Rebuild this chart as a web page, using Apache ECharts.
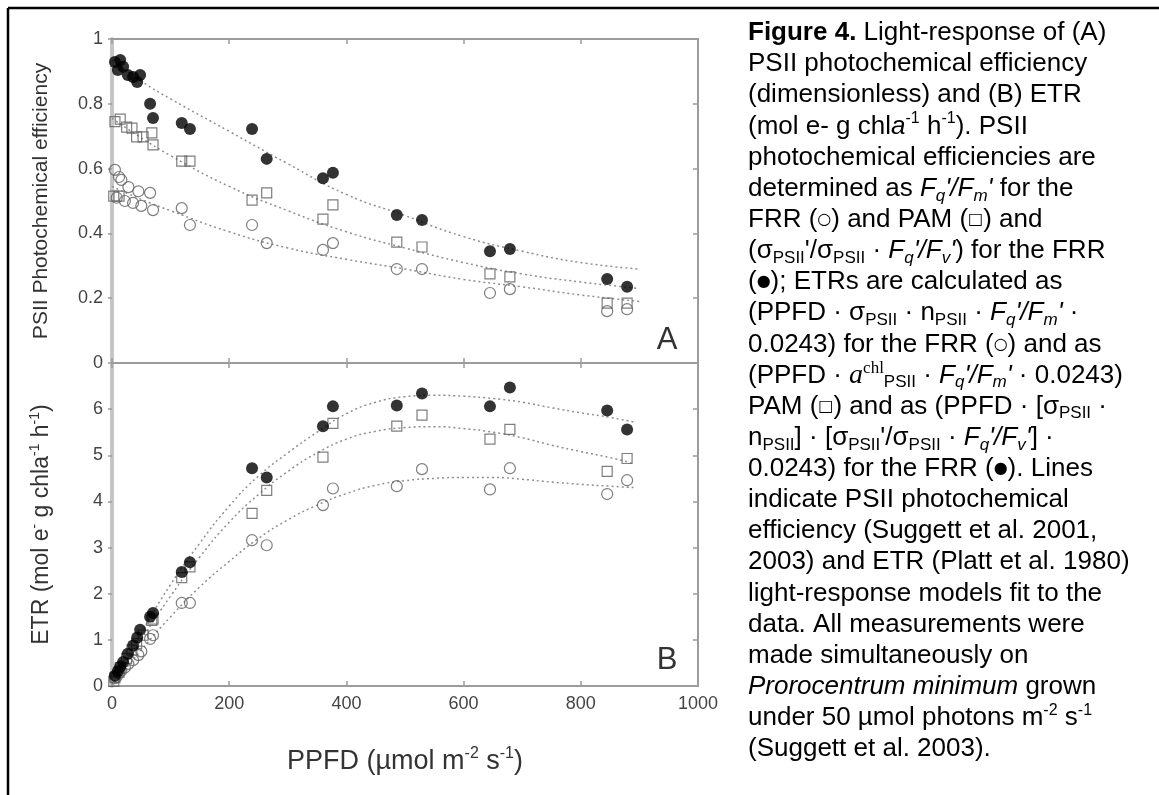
<!DOCTYPE html>
<html><head><meta charset="utf-8">
<script src="https://cdn.jsdelivr.net/npm/echarts@6/dist/echarts.min.js"></script>
<style>html,body{margin:0;padding:0;background:#fff}#c{width:1159px;height:795px}</style>
</head><body><div id="c"></div>
<script>
// ---------- data ----------
// x tick values (PPFD)
const xTicks = [0, 200, 400, 600, 800, 1000];
// Filled circles (FRR, sigma-corrected)
const ppfdFilled = [5, 10, 14, 19, 27, 36, 43, 48, 65, 70, 119, 133, 239, 264, 360, 377, 486, 529, 645, 679, 845, 879];
const effFilled  = [0.929, 0.904, 0.935, 0.914, 0.889, 0.883, 0.867, 0.889, 0.80, 0.756, 0.741, 0.722, 0.722, 0.63, 0.57, 0.587, 0.457, 0.441, 0.345, 0.352, 0.259, 0.235];
const etrFilled  = [0.22, 0.32, 0.42, 0.52, 0.70, 0.88, 1.05, 1.22, 1.50, 1.58, 2.47, 2.68, 4.72, 4.52, 5.63, 6.06, 6.08, 6.34, 6.06, 6.47, 5.97, 5.56];
// Open squares (PAM)
const ppfdSquare = [3, 5, 12, 14, 25, 34, 42, 53, 68, 70, 119, 133, 239, 264, 360, 377, 486, 529, 645, 679, 845, 879];
const effSquare  = [0.515, 0.745, 0.515, 0.753, 0.728, 0.725, 0.698, 0.698, 0.71, 0.673, 0.623, 0.623, 0.503, 0.525, 0.444, 0.488, 0.373, 0.358, 0.275, 0.266, 0.185, 0.185];
const etrSquare  = [0.10, 0.18, 0.30, 0.40, 0.60, 0.78, 0.92, 1.10, 1.42, 1.45, 2.35, 2.58, 3.74, 4.24, 4.96, 5.69, 5.63, 5.87, 5.35, 5.56, 4.65, 4.93];
// Open circles (FRR)
const ppfdCircle = [5, 8, 12, 16, 22, 28, 36, 45, 50, 65, 70, 119, 133, 239, 264, 360, 377, 486, 529, 645, 679, 845, 879];
const effCircle  = [0.596, 0.51, 0.574, 0.565, 0.50, 0.543, 0.494, 0.53, 0.485, 0.525, 0.472, 0.478, 0.426, 0.426, 0.37, 0.349, 0.37, 0.29, 0.29, 0.216, 0.228, 0.16, 0.166];
const etrCircle  = [0.17, 0.20, 0.28, 0.33, 0.40, 0.48, 0.56, 0.67, 0.75, 1.02, 1.10, 1.80, 1.80, 3.16, 3.05, 3.92, 4.28, 4.33, 4.70, 4.26, 4.72, 4.16, 4.46];
// Fitted model curves
const fitPpfdA     = [0, 50, 100, 200, 300, 400, 500, 600, 700, 800, 900];
const fitEffFilled = [0.935, 0.87, 0.815, 0.715, 0.615, 0.52, 0.455, 0.39, 0.345, 0.31, 0.29];
const fitEffSquare = [0.755, 0.695, 0.64, 0.545, 0.47, 0.405, 0.355, 0.31, 0.275, 0.25, 0.23];
const fitEffCircle = [0.545, 0.505, 0.47, 0.405, 0.355, 0.32, 0.29, 0.258, 0.235, 0.21, 0.19];
const fitPpfdB     = [0, 50, 100, 150, 200, 250, 300, 350, 400, 450, 500, 550, 600, 650, 700, 750, 800, 850, 890];
const fitEtrFilled = [0, 1.15, 2.2, 3.1, 3.9, 4.55, 5.05, 5.5, 5.9, 6.15, 6.27, 6.3, 6.28, 6.23, 6.15, 6.03, 5.92, 5.82, 5.72];
const fitEtrSquare = [0, 1.0, 1.95, 2.8, 3.55, 4.15, 4.65, 5.05, 5.35, 5.52, 5.6, 5.62, 5.58, 5.5, 5.38, 5.22, 5.08, 4.95, 4.82];
const fitEtrCircle = [0, 0.78, 1.5, 2.15, 2.7, 3.2, 3.6, 3.92, 4.17, 4.35, 4.45, 4.5, 4.52, 4.52, 4.48, 4.42, 4.37, 4.33, 4.3];

const captionLines = [
  "{b|Figure 4.} Light-response of (A)",
  "PSII photochemical efficiency",
  "(dimensionless) and (B) ETR",
  "(mol e- g chl{i|a}{sup|-1} h{sup|-1}). PSII",
  "photochemical efficiencies are",
  "determined as {i|F}{isub|q}{i|'/F}{isub|m}{i|'} for the",
  "FRR ({sym|○}) and PAM ({sym|□}) and",
  "(σ{sub|PSII}'/σ{sub|PSII} · {i|F}{isub|q}{i|'/F}{isub|v}{i|'}) for the FRR",
  "({sym|●}); ETRs are calculated as",
  "(PPFD · σ{sub|PSII} · n{sub|PSII} · {i|F}{isub|q}{i|'/F}{isub|m}{i|'} ·",
  "0.0243) for the FRR ({sym|○}) and as",
  "(PPFD · {sa|a}{ssup|chl}{sub|PSII} · {i|F}{isub|q}{i|'/F}{isub|m}{i|'} · 0.0243)",
  "PAM ({sym|□}) and as (PPFD · [σ{sub|PSII} ·",
  "n{sub|PSII}] · [σ{sub|PSII}'/σ{sub|PSII} · {i|F}{isub|q}{i|'/F}{isub|v}{i|'}] ·",
  "0.0243) for the FRR ({sym|●}). Lines",
  "indicate PSII photochemical",
  "efficiency (Suggett et al. 2001,",
  "2003) and ETR (Platt et al. 1980)",
  "light-response models fit to the",
  "data. All measurements were",
  "made simultaneously on",
  "{i|Prorocentrum minimum} grown",
  "under 50 µmol photons m{sup|-2} s{sup|-1}",
  "(Suggett et al. 2003)."
];

// ---------- helpers ----------
const FONT = 'Liberation Sans, Arial, Helvetica, sans-serif';
const SERIF = 'Liberation Serif, Times New Roman, serif';
const zip = (xs, ys) => xs.map((x, i) => [x, ys[i]]);
const fitStyle = { color: '#8f8f8f', width: 1.5, type: [2, 3] };
const openItem = { color: 'rgba(255,255,255,0)', borderColor: '#5e5e5e', borderWidth: 1.2 };

function xAx(grid, pos, labels, extra) {
  return Object.assign({
    type: 'value', gridIndex: grid, position: pos, min: xTicks[0], max: xTicks[xTicks.length - 1], interval: xTicks[1] - xTicks[0],
    axisLine: { show: true, onZero: false, lineStyle: { color: '#9c9c9c', width: 2 } },
    axisTick: { show: true, inside: true, length: 5, lineStyle: { color: '#9c9c9c', width: 1.5 } },
    axisLabel: { show: labels, fontSize: 18, color: '#444', fontFamily: FONT, margin: 9, formatter: v => String(v) },
    splitLine: { show: false }
  }, extra || {});
}
function yAx(grid, pos, max, interval, labels, fmt, extra) {
  const left = pos === 'left';
  return Object.assign({
    type: 'value', gridIndex: grid, position: pos, min: 0, max: max, interval: interval,
    axisLine: { show: true, onZero: false, lineStyle: { color: left ? '#c6c6c6' : '#9c9c9c', width: left ? 4 : 2 } },
    axisTick: { show: true, inside: !left, length: left ? 4 : 5, lineStyle: { color: '#9c9c9c', width: 1.5 } },
    axisLabel: { show: labels, fontSize: 18, color: '#444', fontFamily: FONT, margin: 9, formatter: fmt },
    splitLine: { show: false }
  }, extra || {});
}

const nameRichA = {
  n: { fontSize: 21, color: '#333', fontFamily: FONT, lineHeight: 26 }
};
const nameRichB = {
  n: { fontSize: 23, color: '#333', fontFamily: FONT, lineHeight: 28 },
  s: { fontSize: 14, color: '#333', fontFamily: FONT, lineHeight: 10, verticalAlign: 'top' }
};
const xNameRich = {
  n: { fontSize: 27, color: '#333', fontFamily: FONT, lineHeight: 32 },
  s: { fontSize: 16, color: '#333', fontFamily: FONT, lineHeight: 10, verticalAlign: 'top' }
};

const chart = echarts.init(document.getElementById('c'), null, { renderer: 'canvas' });

const capRich = {
  b: { fontSize: 26, fontWeight: 'bold', fontFamily: FONT, color: '#000', lineHeight: 31.13 },
  i: { fontSize: 26, fontStyle: 'italic', fontFamily: FONT, color: '#000', lineHeight: 31.13 },
  sub: { fontSize: 17, fontFamily: FONT, color: '#000', lineHeight: 10, verticalAlign: 'bottom' },
  isub: { fontSize: 17, fontStyle: 'italic', fontFamily: FONT, color: '#000', lineHeight: 10, verticalAlign: 'bottom' },
  sup: { fontSize: 16, fontFamily: FONT, color: '#000', lineHeight: 10, verticalAlign: 'top' },
  sym: { fontSize: 16, fontFamily: 'DejaVu Sans, sans-serif', color: '#000', lineHeight: 31.13 },
  sa: { fontSize: 28, fontStyle: 'italic', fontFamily: SERIF, color: '#000', lineHeight: 31.13 },
  ssup: { fontSize: 17, fontFamily: SERIF, color: '#000', lineHeight: 10, verticalAlign: 'top' }
};

const option = {
  backgroundColor: '#fff',
  animation: false,
  grid: [
    { left: 112, top: 39, width: 586, height: 324 },
    { left: 112, top: 363, width: 586, height: 323 }
  ],
  xAxis: [
    xAx(0, 'bottom', false),
    xAx(0, 'top', false),
    xAx(1, 'bottom', true, {
      name: '{n|PPFD (µmol m}{s|-2}{n| s}{s|-1}{n|)}', nameLocation: 'middle', nameGap: 60,
      nameTextStyle: { rich: xNameRich }
    }),
    xAx(1, 'top', false)
  ],
  yAxis: [
    yAx(0, 'left', 1, 0.2, true, v => String(+v.toFixed(1)), {
      name: '{n|PSII Photochemical efficiency}', nameLocation: 'middle', nameGap: 58,
      nameTextStyle: { rich: nameRichA }
    }),
    yAx(0, 'right', 1, 0.2, false),
    yAx(1, 'left', 7, 1, true, v => (v === 7 ? '' : String(v)), {
      name: '{n|ETR (mol e}{s|-}{n| g chla}{s|-1}{n| h}{s|-1}{n|)}', nameLocation: 'middle', nameGap: 56,
      nameTextStyle: { rich: nameRichB }
    }),
    yAx(1, 'right', 7, 1, false)
  ],
  series: [
    // Panel A fits
    { type: 'line', xAxisIndex: 0, yAxisIndex: 0, data: zip(fitPpfdA, fitEffFilled), smooth: true, symbol: 'none', lineStyle: fitStyle, silent: true, z: 1 },
    { type: 'line', xAxisIndex: 0, yAxisIndex: 0, data: zip(fitPpfdA, fitEffSquare), smooth: true, symbol: 'none', lineStyle: fitStyle, silent: true, z: 1 },
    { type: 'line', xAxisIndex: 0, yAxisIndex: 0, data: zip(fitPpfdA, fitEffCircle), smooth: true, symbol: 'none', lineStyle: fitStyle, silent: true, z: 1 },
    // Panel A points
    { type: 'scatter', xAxisIndex: 0, yAxisIndex: 0, data: zip(ppfdCircle, effCircle), symbol: 'circle', symbolSize: 11, itemStyle: openItem, z: 3 },
    { type: 'scatter', xAxisIndex: 0, yAxisIndex: 0, data: zip(ppfdSquare, effSquare), symbol: 'rect', symbolSize: 10, itemStyle: openItem, z: 3 },
    { type: 'scatter', xAxisIndex: 0, yAxisIndex: 0, data: zip(ppfdFilled, effFilled), symbol: 'circle', symbolSize: 12, itemStyle: { color: '#000' }, z: 4 },
    // Panel B fits
    { type: 'line', xAxisIndex: 2, yAxisIndex: 2, data: zip(fitPpfdB, fitEtrFilled), smooth: true, symbol: 'none', lineStyle: fitStyle, silent: true, z: 1 },
    { type: 'line', xAxisIndex: 2, yAxisIndex: 2, data: zip(fitPpfdB, fitEtrSquare), smooth: true, symbol: 'none', lineStyle: fitStyle, silent: true, z: 1 },
    { type: 'line', xAxisIndex: 2, yAxisIndex: 2, data: zip(fitPpfdB, fitEtrCircle), smooth: true, symbol: 'none', lineStyle: fitStyle, silent: true, z: 1 },
    // Panel B points
    { type: 'scatter', xAxisIndex: 2, yAxisIndex: 2, data: zip(ppfdCircle, etrCircle), symbol: 'circle', symbolSize: 11, itemStyle: openItem, z: 3 },
    { type: 'scatter', xAxisIndex: 2, yAxisIndex: 2, data: zip(ppfdSquare, etrSquare), symbol: 'rect', symbolSize: 10, itemStyle: openItem, z: 3 },
    { type: 'scatter', xAxisIndex: 2, yAxisIndex: 2, data: zip(ppfdFilled, etrFilled), symbol: 'circle', symbolSize: 12, itemStyle: { color: '#000' }, z: 4 }
  ],
  graphic: [
    { type: 'line', shape: { x1: 8, y1: 8, x2: 1159, y2: 8 }, style: { stroke: '#000', lineWidth: 2.5 }, z: 10 },
    { type: 'line', shape: { x1: 8, y1: 8, x2: 8, y2: 795 }, style: { stroke: '#000', lineWidth: 2.5 }, z: 10 },
    { type: 'text', x: 667, y: 340, style: { text: 'A', fontSize: 31, fontFamily: FONT, fill: '#333', align: 'center', verticalAlign: 'middle' } },
    { type: 'text', x: 667, y: 660, style: { text: 'B', fontSize: 31, fontFamily: FONT, fill: '#333', align: 'center', verticalAlign: 'middle' } },
    { type: 'text', x: 748, y: 17.5, style: {
        text: captionLines.join('\n'), fontSize: 26, fontFamily: FONT, fill: '#000',
        lineHeight: 31.13, align: 'left', verticalAlign: 'top', rich: capRich } }
  ]
};
chart.setOption(option);
</script>
</body></html>
